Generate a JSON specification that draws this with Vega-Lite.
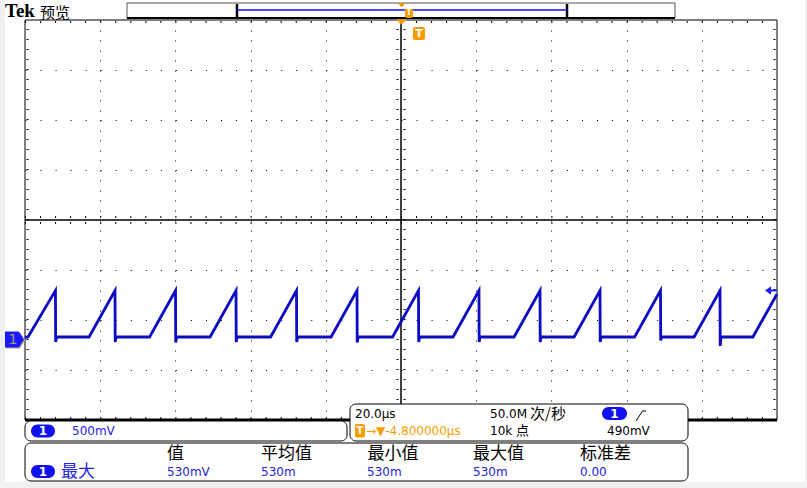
{
  "$schema": "https://vega.github.io/schema/vega-lite/v6.json",
  "width": 752,
  "height": 400,
  "autosize": {"type": "none"},
  "padding": {"left": 25, "top": 20, "right": 30, "bottom": 68},
  "background": "white",
  "config": {"view": {"stroke": null}, "font": "DejaVu Sans"},
  "encoding": {
    "x": {"field": "t", "type": "quantitative", "scale": {"domain": [-100, 100], "nice": false, "zero": false},
      "axis": {"values": [-80, -60, -40, -20, 20, 40, 60, 80], "grid": true, "gridDash": [1, 9], "gridColor": "#000", "gridOpacity": 1, "gridWidth": 1, "labels": false, "ticks": false, "domain": false, "title": null}},
    "y": {"field": "v", "type": "quantitative", "scale": {"domain": [-800, 3200], "nice": false, "zero": false},
      "axis": {"values": [-300, 200, 700, 1700, 2200, 2700], "grid": true, "gridDash": [1, 14.04], "gridColor": "#000", "gridOpacity": 1, "gridWidth": 1, "labels": false, "ticks": false, "domain": false, "title": null}}
  },
  "layer": [
    {
      "data": {"values": [
        {"t": -120, "t2": -105.32, "v": 3500, "v2": -1600},
        {"t": 107.45, "t2": 120, "v": 3500, "v2": -1600},
        {"t": -120, "t2": 120, "v": -1420, "v2": -1600}
      ]},
      "mark": {"type": "rect", "color": "#f0f0f0"},
      "encoding": {"x2": {"field": "t2"}, "y2": {"field": "v2"}}
    },
    {
      "data": {"values": [
        {"t": 0, "t2": 0, "v": -800, "v2": 3200},
        {"t": -100, "t2": 100, "v": 1200, "v2": 1200}
      ]},
      "mark": {"type": "rule", "color": "#000", "strokeWidth": 1.5},
      "encoding": {"x2": {"field": "t2"}, "y2": {"field": "v2"}}
    },
    {
      "data": {"values": [
        {"t": -0.931, "t2": -0.931, "v": -800, "v2": 3200},
        {"t": 0.931, "t2": 0.931, "v": -800, "v2": 3200},
        {"t": -99.33, "t2": -99.33, "v": -800, "v2": 3200},
        {"t": 99.33, "t2": 99.33, "v": -800, "v2": 3200}
      ]},
      "mark": {"type": "rule", "color": "#000", "strokeWidth": 2, "strokeDash": [1, 9]},
      "encoding": {"x2": {"field": "t2"}, "y2": {"field": "v2"}}
    },
    {
      "data": {"values": [
        {"t": -100, "t2": 100, "v": 1230, "v2": 1230},
        {"t": -100, "t2": 100, "v": 1170, "v2": 1170},
        {"t": -100, "t2": 100, "v": 3180, "v2": 3180},
        {"t": -100, "t2": 100, "v": -780, "v2": -780}
      ]},
      "mark": {"type": "rule", "color": "#000", "strokeWidth": 2, "strokeDash": [1, 14.04]},
      "encoding": {"x2": {"field": "t2"}, "y2": {"field": "v2"}}
    },
    {
      "data": {"values": [{"t": -100, "t2": 100, "v": -800, "v2": 3200}]},
      "mark": {"type": "rect", "fillOpacity": 0, "stroke": "#000", "strokeWidth": 1},
      "encoding": {"x2": {"field": "t2"}, "y2": {"field": "v2"}}
    },
    {
      "data": {"values": [{"t": -100, "t2": 100, "v": -800, "v2": -800}]},
      "mark": {"type": "rule", "color": "#000", "strokeWidth": 3},
      "encoding": {"x2": {"field": "t2"}, "y2": {"field": "v2"}}
    },
    {
      "data": {"values": [
        {"t": -100, "v": 25}, {"t": -99.2, "v": 30}, {"t": -91.9, "v": 495}, {"t": -91.85, "v": -20}, {"t": -91.6, "v": 30},
        {"t": -82.96, "v": 30}, {"t": -76.06, "v": 495}, {"t": -76.01, "v": -20}, {"t": -75.8, "v": 30},
        {"t": -66.87, "v": 30}, {"t": -59.97, "v": 495}, {"t": -59.92, "v": -25}, {"t": -59.7, "v": 30},
        {"t": -50.78, "v": 30}, {"t": -43.88, "v": 495}, {"t": -43.83, "v": -20}, {"t": -43.6, "v": 30},
        {"t": -34.69, "v": 30}, {"t": -27.79, "v": 495}, {"t": -27.74, "v": -20}, {"t": -27.5, "v": 30},
        {"t": -18.6, "v": 30}, {"t": -11.7, "v": 495}, {"t": -11.65, "v": -25}, {"t": -11.4, "v": 30},
        {"t": -2.25, "v": 30}, {"t": 4.65, "v": 495}, {"t": 4.7, "v": -20}, {"t": 4.95, "v": 30},
        {"t": 13.84, "v": 30}, {"t": 20.74, "v": 495}, {"t": 20.79, "v": -20}, {"t": 21.0, "v": 30},
        {"t": 30.07, "v": 30}, {"t": 36.97, "v": 495}, {"t": 37.02, "v": -20}, {"t": 37.25, "v": 30},
        {"t": 46.03, "v": 30}, {"t": 52.93, "v": 495}, {"t": 52.98, "v": -20}, {"t": 53.2, "v": 30},
        {"t": 62.12, "v": 30}, {"t": 69.02, "v": 495}, {"t": 69.07, "v": -5}, {"t": 69.3, "v": 30},
        {"t": 77.94, "v": 30}, {"t": 84.84, "v": 495}, {"t": 84.89, "v": -60}, {"t": 85.1, "v": 30},
        {"t": 93.6, "v": 30}, {"t": 100, "v": 460}
      ]},
      "mark": {"type": "line", "color": "#0c0cc4", "strokeWidth": 2.8, "strokeJoin": "miter"}
    },
    {
      "data": {"values": [{"t": -72.87, "t2": 72.87, "v": 3370, "v2": 3220}]},
      "mark": {"type": "rect", "fill": "white", "stroke": "#555", "strokeWidth": 1},
      "encoding": {"x2": {"field": "t2"}, "y2": {"field": "v2"}}
    },
    {
      "data": {"values": [{"t": -72.87, "t2": 72.87, "v": 3220, "v2": 3220}]},
      "mark": {"type": "rule", "color": "#000", "strokeWidth": 2},
      "encoding": {"x2": {"field": "t2"}, "y2": {"field": "v2"}}
    },
    {
      "data": {"values": [
        {"t": -43.62, "t2": -43.62, "v": 3360, "v2": 3220},
        {"t": 44.15, "t2": 44.15, "v": 3360, "v2": 3220}
      ]},
      "mark": {"type": "rule", "color": "#000", "strokeWidth": 2.5},
      "encoding": {"x2": {"field": "t2"}, "y2": {"field": "v2"}}
    },
    {
      "data": {"values": [{"t": -43.62, "t2": 44.15, "v": 3300, "v2": 3300}]},
      "mark": {"type": "rule", "color": "#1010ff", "strokeWidth": 1.5},
      "encoding": {"x2": {"field": "t2"}, "y2": {"field": "v2"}}
    },
    {
      "data": {"values": [
        {"t": 1.06, "t2": 3.19, "v": 3320, "v2": 3220},
        {"t": 3.19, "t2": 6.38, "v": 3130, "v2": 3000}
      ]},
      "mark": {"type": "rect", "color": "#f59d00", "cornerRadius": 2},
      "encoding": {"x2": {"field": "t2"}, "y2": {"field": "v2"}}
    },
    {
      "data": {"values": [{"t": 0.19, "v": 3347, "z": 64}, {"t": 0.13, "v": 3180, "z": 121}]},
      "mark": {"type": "point", "shape": "M-1,-0.5L1,-0.5L0,0.5Z", "filled": true, "color": "#f59d00", "opacity": 1, "strokeWidth": 0},
      "encoding": {"size": {"field": "z", "type": "quantitative", "scale": null}}
    },
    {
      "data": {"values": [{"t": 98.4, "v": 495}]},
      "mark": {"type": "point", "shape": "M-1,0L0,-0.7L0,-0.15L1,-0.15L1,0.15L0,0.15L0,0.7Z", "size": 144, "filled": true, "color": "#1c1cff", "opacity": 1, "strokeWidth": 0}
    },
    {
      "data": {"values": [{"t": -102.53, "v": -5}]},
      "mark": {"type": "point", "shape": "M-1,-0.85L0.45,-0.85L1,0L0.45,0.85L-1,0.85Z", "size": 361, "filled": true, "color": "#b4a87c", "opacity": 1, "strokeWidth": 0}
    },
    {
      "data": {"values": [{"t": -102.79, "v": 5}]},
      "mark": {"type": "point", "shape": "M-1,-0.85L0.45,-0.85L1,0L0.45,0.85L-1,0.85Z", "size": 361, "filled": true, "color": "#1a1aff", "opacity": 1, "strokeWidth": 0}
    },
    {
      "data": {"values": [{"t": -103.19, "v": 0, "s": "1"}]},
      "mark": {"type": "text", "align": "center", "baseline": "middle", "font": "DejaVu Sans", "fontSize": 14, "color": "#a09a70"},
      "encoding": {"text": {"field": "s"}}
    },
    {
      "data": {"values": [
        {"t": -100, "t2": -14.36, "v": -810, "v2": -1010},
        {"t": -13.56, "t2": 76.33, "v": -640, "v2": -1010},
        {"t": -100, "t2": 76.33, "v": -1030, "v2": -1410}
      ]},
      "mark": {"type": "rect", "fill": "white", "stroke": "#000", "strokeWidth": 1, "cornerRadius": 6},
      "encoding": {"x2": {"field": "t2"}, "y2": {"field": "v2"}}
    },
    {
      "data": {"values": [
        {"t": -98.4, "t2": -92.02, "v": -845, "v2": -975},
        {"t": 53.46, "t2": 60.11, "v": -670, "v2": -800},
        {"t": -98.4, "t2": -92.02, "v": -1250, "v2": -1380}
      ]},
      "mark": {"type": "rect", "color": "#1010f0", "cornerRadius": 6.5},
      "encoding": {"x2": {"field": "t2"}, "y2": {"field": "v2"}}
    },
    {
      "data": {"values": [{"t": -12.23, "t2": -9.57, "v": -840, "v2": -975}]},
      "mark": {"type": "rect", "color": "#f59d00", "cornerRadius": 2},
      "encoding": {"x2": {"field": "t2"}, "y2": {"field": "v2"}}
    },
    {
      "data": {"values": [{"t": 63.83, "v": -760}]},
      "mark": {"type": "point", "shape": "M-1,1L0.3,-1L1,-1", "size": 100, "filled": false, "color": "#000", "opacity": 1, "strokeWidth": 1}
    },
    {
      "data": {"values": [
        {"t": -95.21, "v": -910, "s": "1", "z": 12},
        {"t": 56.78, "v": -735, "s": "1", "z": 12},
        {"t": -95.21, "v": -1315, "s": "1", "z": 12},
        {"t": 2.13, "v": 3270, "s": "T", "z": 8},
        {"t": 4.79, "v": 3065, "s": "T", "z": 11},
        {"t": -10.9, "v": -910, "s": "T", "z": 10}
      ]},
      "mark": {"type": "text", "align": "center", "baseline": "middle", "font": "DejaVu Sans", "fontWeight": "bold", "color": "white"},
      "encoding": {"text": {"field": "s"}, "size": {"field": "z", "type": "quantitative", "scale": null}}
    },
    {
      "data": {"values": [
        {"t": -87.5, "v": -910, "s": "500mV", "c": "#2323e0"},
        {"t": -12.23, "v": -740, "s": "20.0µs", "c": "#000000"},
        {"t": 23.67, "v": -740, "s": "50.0M", "c": "#000000"},
        {"t": -9.31, "v": -910, "s": "→▼-4.800000µs", "c": "#f59d00"},
        {"t": 23.67, "v": -910, "s": "10k", "c": "#000000"},
        {"t": 54.79, "v": -910, "s": "490mV", "c": "#000000"},
        {"t": -62.23, "v": -1320, "s": "530mV", "c": "#2323e0"},
        {"t": -37.23, "v": -1320, "s": "530m", "c": "#2323e0"},
        {"t": -9.04, "v": -1320, "s": "530m", "c": "#2323e0"},
        {"t": 19.15, "v": -1320, "s": "530m", "c": "#2323e0"},
        {"t": 47.61, "v": -1320, "s": "0.00", "c": "#2323e0"}
      ]},
      "mark": {"type": "text", "align": "left", "baseline": "middle", "font": "DejaVu Sans", "fontSize": 12},
      "encoding": {"text": {"field": "s"}, "color": {"field": "c", "type": "nominal", "scale": null}}
    },
    {
      "data": {"values": [
        {"t": 34.31, "v": -740, "s": "次/秒", "c": "#000000", "z": 15},
        {"t": 30.59, "v": -910, "s": "点", "c": "#000000", "z": 13},
        {"t": -62.23, "v": -1140, "s": "值", "c": "#000000", "z": 17},
        {"t": -37.23, "v": -1140, "s": "平均值", "c": "#000000", "z": 17},
        {"t": -8.91, "v": -1140, "s": "最小值", "c": "#000000", "z": 17},
        {"t": 19.15, "v": -1140, "s": "最大值", "c": "#000000", "z": 17},
        {"t": 47.61, "v": -1140, "s": "标准差", "c": "#000000", "z": 17},
        {"t": -90.43, "v": -1320, "s": "最大", "c": "#2323e0", "z": 17},
        {"t": -96.01, "v": 3275, "s": "预览", "c": "#000000", "z": 15}
      ]},
      "mark": {"type": "text", "align": "left", "baseline": "middle", "font": "Noto Sans CJK SC"},
      "encoding": {"text": {"field": "s"}, "color": {"field": "c", "type": "nominal", "scale": null}, "size": {"field": "z", "type": "quantitative", "scale": null}}
    },
    {
      "data": {"values": [{"t": -105.32, "v": 3228, "s": "Tek"}]},
      "mark": {"type": "text", "align": "left", "baseline": "alphabetic", "font": "Liberation Serif", "fontWeight": "bold", "fontSize": 19, "color": "#000"},
      "encoding": {"text": {"field": "s"}}
    }
  ]
}
